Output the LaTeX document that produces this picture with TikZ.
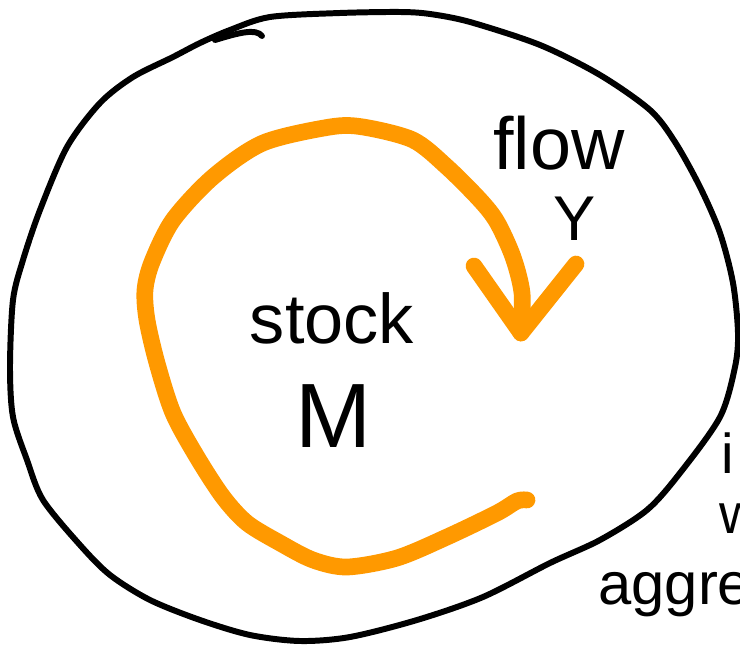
\documentclass[tikz,border=0pt]{standalone}
\usepackage{fontspec}
\setmainfont{Liberation Sans}
\definecolor{sketchorange}{RGB}{255,153,0}
\begin{document}
\begin{tikzpicture}[x=0.02cm, y=-0.02cm,
    pen/.style={black, line width=3.4pt, line cap=round, line join=round},
    marker/.style={sketchorange, line width=9.5pt, line cap=round, line join=round},
    word/.style={inner sep=0pt, anchor=base}]
      \useasboundingbox (0,0) rectangle (740,645);
      \draw [pen] plot [smooth cycle] coordinates {(270,17) (340,13) (400,12) (430,14) (470,22) (540,45) (600,75) (650,110) (675,142) (700,187) (720,233) (733,283) (738,333) (735,367) (720,417) (680,473) (647,510) (600,540) (550,563) (483,597) (417,620) (350,637) (300,641) (250,635) (200,620) (150,600) (110,575) (80,545) (43,500) (27,460) (13,417) (10,367) (13,300) (23,260) (40,210) (67,147) (100,103) (133,77) (173,57) (200,43) (230,30)};
      \draw [pen] (215,40) .. controls (238,33) and (256,28) .. (262,36);
      \draw [marker] plot [smooth] coordinates {(527,500) (517,501) (497,513) (447,537) (397,558) (347,567) (313,560) (280,543) (247,523) (223,497) (197,457) (173,413) (157,363) (147,320) (145,290) (152,262) (173,220) (213,177) (263,143) (330,127) (363,127) (413,140) (447,167) (480,200) (497,222) (513,257) (522,293) (521,333)};
      \coordinate (tip) at (521,333);
      \coordinate (armL) at (474,266);
      \coordinate (armR) at (576,264);
      \draw [marker] (armL) -- (tip) -- (armR);
      \node [word] (stock) at (332,343) {\fontsize{40}{40}\selectfont stock};
      \node [word] (M) at (334,447) {\fontsize{52}{52}\selectfont M};
      \node [word] (flow) at (559,170) {\fontsize{42}{42}\selectfont flow};
      \node [word] (Y) at (575,240) {\fontsize{36}{36}\selectfont Y};
      \node [word, anchor=base west] (i) at (721,473) {\fontsize{32}{32}\selectfont i};
      \node [word, anchor=base west] (w) at (719,533) {\fontsize{32}{32}\selectfont w};
      \node [word, anchor=base west] (aggre) at (598,604) {\fontsize{34}{34}\selectfont aggre};
    \end{tikzpicture}
\end{document}
